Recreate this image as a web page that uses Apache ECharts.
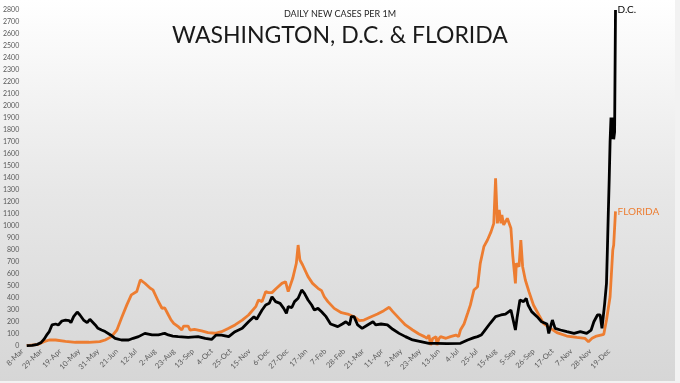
<!DOCTYPE html>
<html>
<head>
<meta charset="utf-8">
<script src="https://cdn.jsdelivr.net/npm/echarts@6/dist/echarts.min.js"></script>
<style>
html,body{margin:0;padding:0;background:#fff;}
#chart{width:680px;height:383px;}
</style>
</head>
<body>
<div id="chart"></div>
<script>
// Day offsets are days since 8-Mar-2020
const startDate = '2020-03-08';
const tickLabels = ['8-Mar','29-Mar','19-Apr','10-May','31-May','21-Jun','12-Jul','2-Aug','23-Aug','13-Sep','4-Oct','25-Oct','15-Nov','6-Dec','27-Dec','17-Jan','7-Feb','28-Feb','21-Mar','11-Apr','2-May','23-May','13-Jun','4-Jul','25-Jul','15-Aug','5-Sep','26-Sep','17-Oct','7-Nov','28-Nov','19-Dec'];
const yTicks = [0, 2800, 100];

const dcDays = [5,11,17,21,24,27,30,33,37,40,44,48,52,54,57,61,64,68,72,75,77,81,84,88,92,98,103,110,118,123,129,136,144,151,155,158,162,167,173,184,195,203,210,215,221,229,236,244,251,257,260,266,270,274,277,281,286,290,293,295,299,302,306,310,313,317,321,324,328,332,337,342,350,355,359,363,365,368,372,377,383,389,392,398,405,411,418,425,433,442,451,460,471,486,494,501,505,509,512,519,525,531,536,542,544,547,549,552,556,559,561,565,571,576,582,584,586,588,591,597,604,612,619,626,631,634,638,641,643,645,646,648,649,650,651,652,653,654,655,656,657,658];
const dcValues = [3,6,14,30,55,90,120,175,183,175,208,216,211,194,244,283,258,216,194,222,208,175,147,133,120,92,64,50,50,64,78,105,92,92,100,105,92,83,78,72,78,64,55,91,91,78,119,147,202,244,222,299,341,355,410,369,355,313,272,327,320,369,397,466,438,383,341,299,313,285,244,183,161,183,202,175,244,244,175,147,175,202,175,183,175,139,105,78,50,36,22,22,20,22,50,70,78,91,119,189,244,258,266,299,285,133,244,383,369,397,341,286,244,202,183,105,161,216,147,133,119,105,119,105,133,202,258,258,147,133,355,521,800,1100,1380,1700,1900,1720,1900,1720,1780,2795];

const flDays = [5,18,24,30,37,48,59,74,86,92,99,105,110,116,121,127,131,133,136,142,145,151,155,158,162,165,168,173,177,179,184,186,191,199,206,214,221,229,236,244,251,259,262,266,270,273,277,282,288,292,295,297,300,304,306,308,311,317,322,328,332,335,339,346,354,361,368,374,379,387,394,401,407,411,418,425,433,440,446,449,451,453,455,459,460,462,464,470,475,481,484,486,490,494,497,501,505,508,512,516,520,523,525,527,529,531,532,534,538,542,544,547,548,551,553,555,558,562,567,573,578,586,593,604,615,624,628,632,637,645,648,652,655,656,658];
const flValues = [3,14,36,50,50,39,31,31,36,50,78,133,230,342,425,453,550,536,522,480,467,370,314,318,260,217,189,161,133,166,166,133,139,125,111,106,119,147,175,216,258,327,383,369,452,444,444,480,521,535,452,466,563,688,840,715,674,577,521,480,460,410,369,313,277,266,244,211,216,244,266,294,322,286,230,175,133,100,78,64,91,8,60,78,8,60,78,64,78,91,78,133,183,272,340,466,493,687,826,882,951,1020,1394,1020,1131,1020,1090,1007,1062,979,757,521,687,660,882,660,549,452,341,258,189,147,111,83,72,64,36,64,83,97,216,410,799,840,1120];

const chart = echarts.init(document.getElementById('chart'), null, {renderer: 'canvas'});
const lastDay = 658;
const font = 'Lato, "Noto Sans", sans-serif';

chart.setOption({
  animation: false,
  backgroundColor: {
    type: 'linear', x: 0, y: 0, x2: 0, y2: 1,
    colorStops: [
      {offset: 0, color: '#ffffff'},
      {offset: 0.5, color: '#e7e7e7'},
      {offset: 1, color: '#d6d6d6'}
    ]
  },
  title: [
    {text: 'DAILY NEW CASES PER 1M', left: 'center', top: 5,
     textStyle: {fontFamily: font, fontSize: 9, fontWeight: 'normal', color: '#262626'}},
    {text: 'WASHINGTON, D.C. & FLORIDA', left: 'center', top: 19,
     textStyle: {fontFamily: font, fontSize: 23, fontWeight: 'normal', color: '#1a1a1a'}},
    {text: 'Source: NYTimes COVID-19 Data - 7 Day Avg. / @ianmSC', left: 'center', top: 375,
     textStyle: {fontFamily: font, fontSize: 6, fontWeight: 'normal', color: '#595959'}}
  ],
  grid: {left: 20, right: 64.5, top: 9.4, bottom: 37, containLabel: false},
  xAxis: {
    type: 'value', min: 0, max: lastDay, interval: 21,
    axisLine: {show: false}, axisTick: {show: false}, splitLine: {show: false},
    axisLabel: {
      rotate: 45, margin: 4, fontSize: 7.5, color: '#595959', fontFamily: font,
      showMaxLabel: false,
      formatter: function (v) { return (v % 21 === 0 && tickLabels[v / 21]) ? tickLabels[v / 21] : ''; }
    }
  },
  yAxis: {
    type: 'value', min: yTicks[0], max: yTicks[1], interval: yTicks[2],
    axisLine: {show: false}, axisTick: {show: false}, splitLine: {show: false},
    axisLabel: {margin: 3, fontSize: 7, color: '#595959', fontFamily: font,
      formatter: function (v) { return String(v); }}
  },
  series: [
    {
      name: 'FLORIDA', type: 'line', showSymbol: false,
      data: flDays.map((d, i) => [d, flValues[i]]),
      lineStyle: {color: '#ED7D31', width: 2.8}, itemStyle: {color: '#ED7D31'},
      endLabel: {show: true, formatter: 'FLORIDA', color: '#ED7D31', fontSize: 10, fontFamily: font, distance: 2}
    },
    {
      name: 'D.C.', type: 'line', showSymbol: false,
      data: dcDays.map((d, i) => [d, dcValues[i]]),
      lineStyle: {color: '#000000', width: 2.8}, itemStyle: {color: '#000'},
      endLabel: {show: true, formatter: 'D.C.', color: '#000', fontSize: 10, fontFamily: font, distance: 2}
    }
  ],
  graphic: [
    {type: 'rect', shape: {x: 675, y: 0, width: 5, height: 383}, style: {fill: '#f2f2f2'}, z: 100},
    {type: 'rect', shape: {x: 0, y: 381, width: 680, height: 2}, style: {fill: '#f2f2f2'}, z: 100}
  ]
});
</script>
</body>
</html>
